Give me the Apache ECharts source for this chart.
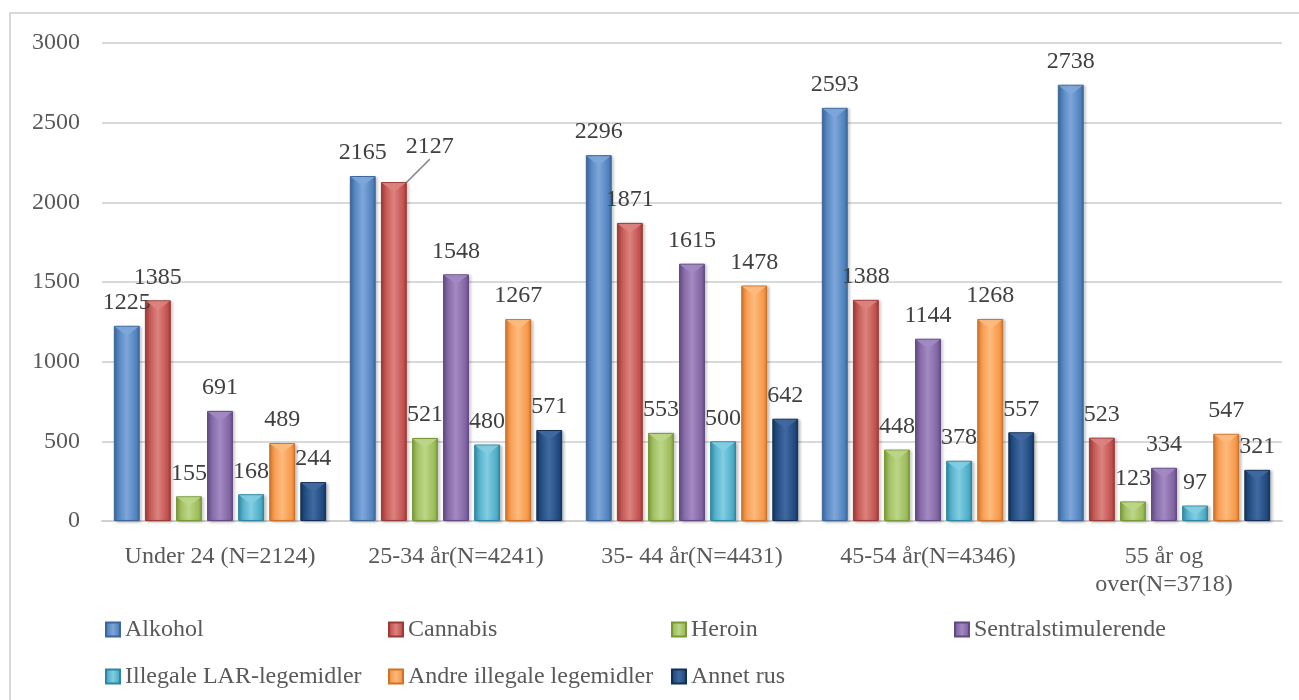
<!DOCTYPE html>
<html>
<head>
<meta charset="utf-8">
<script src="https://cdn.jsdelivr.net/npm/echarts@6/dist/echarts.min.js"></script>
<style>
  html, body { margin: 0; padding: 0; background: #fff; }
  #chart { width: 1299px; height: 700px; }
</style>
</head>
<body>
<div id="chart"></div>
<script>
// aldersgrupper
const categories = ['Under 24 (N=2124)', '25-34 år(N=4241)', '35- 44 år(N=4431)', '45-54 år(N=4346)', '55 år og\nover(N=3718)']

const alkohol = [1225, 2165, 2296, 2593, 2738]
const cannabis = [1385, 2127, 1871, 1388, 523]
const heroin = [155, 521, 553, 448, 123]
const sentralstimulerende = [691, 1548, 1615, 1144, 334]
const illegaleLar = [168, 480, 500, 378, 97]
const andreIllegale = [489, 1267, 1478, 1268, 547]
const annetRus = [244, 571, 642, 557, 321]

const yTicks = [0, 500, 1000, 1500, 2000, 2500, 3000]

const font = '"Liberation Serif", "DejaVu Serif", serif'

// farger: [mork, basis, lys]
const seriesList = [
  { name: 'Alkohol', data: alkohol, c: ['#3a6699', '#4f81bd', '#7ea6d9'] },
  { name: 'Cannabis', data: cannabis, c: ['#9a3936', '#c0504d', '#dc837f'] },
  { name: 'Heroin', data: heroin, c: ['#789836', '#9bbb59', '#bcd688'] },
  { name: 'Sentralstimulerende', data: sentralstimulerende, c: ['#614982', '#8064a2', '#a38ac3'] },
  { name: 'Illegale LAR-legemidler', data: illegaleLar, c: ['#2c87a0', '#4bacc6', '#82cde2'] },
  { name: 'Andre illegale legemidler', data: andreIllegale, c: ['#cf7227', '#f79646', '#fcbb7e'] },
  { name: 'Annet rus', data: annetRus, c: ['#122f55', '#1f497d', '#3f69a0'] }
]

function bevel (c) {
  return new echarts.graphic.LinearGradient(0, 0, 1, 0, [
    { offset: 0, color: c[0] },
    { offset: 0.12, color: c[1] },
    { offset: 0.5, color: c[2] },
    { offset: 0.88, color: c[1] },
    { offset: 1, color: c[0] }
  ])
}

// 2127-etiketten er flyttet i originalen, med en linje tilbake til stolpen
function barData (s) {
  return s.data.map((v, i) => {
    if (s.name === 'Cannabis' && i === 1) {
      return { value: v, labelLine: { show: true } }
    }
    return v
  })
}

const barSeries = seriesList.map(s => ({
  name: s.name,
  type: 'bar',
  data: barData(s),
  barGap: '20%',
  barCategoryGap: '10%',
  itemStyle: {
    color: bevel(s.c),
    borderColor: s.c[0],
    borderWidth: 1,
    shadowColor: 'rgba(0,0,0,0.25)',
    shadowBlur: 3,
    shadowOffsetX: 2,
    shadowOffsetY: 1
  },
  label: {
    show: true,
    position: 'top',
    distance: 11,
    fontFamily: font,
    fontSize: 24,
    color: '#404040'
  },
  labelLine: {
    show: false,
    lineStyle: { color: '#8c8c8c', width: 1.5 }
  },
  labelLayout: s.name === 'Cannabis'
    ? function (p) { return p.dataIndex === 1 ? { dx: 36, dy: -12 } : {} }
    : undefined
}))

// lys trekant på toppen av hver stolpe (skrå-effekten fra Excel)
const capSeries = seriesList.map(s => ({
  name: s.name + ' topp',
  type: 'pictorialBar',
  data: s.data,
  barGap: '20%',
  barCategoryGap: '10%',
  symbol: 'path://M0,0 L10,0 L5,3.2 Z',
  symbolSize: ['92%', 9],
  symbolPosition: 'end',
  symbolOffset: [0, 1],
  z: 3,
  silent: true,
  itemStyle: { color: s.c[2], opacity: 0.9 },
  label: { show: false }
}))

const myChart = echarts.init(document.getElementById('chart'))

myChart.setOption({
  animation: false,
  graphic: [{
    type: 'rect',
    shape: { x: 10, y: 13, width: 1320, height: 720 },
    style: { fill: 'none', stroke: '#d9d9d9', lineWidth: 2 },
    silent: true
  }],
  grid: {
    left: 102,
    right: 17,
    top: 43,
    bottom: 179
  },
  legend: {
    left: 105,
    top: 606,
    width: 1150,
    padding: 0,
    itemGap: 0,
    itemWidth: 14,
    itemHeight: 14,
    icon: 'rect',
    textStyle: {
      fontFamily: font,
      fontSize: 24,
      color: '#595959',
      width: 263,
      lineHeight: 47
    },
    data: seriesList.map(s => s.name)
  },
  xAxis: {
    type: 'category',
    data: categories,
    axisLine: { lineStyle: { color: '#d0d0d0', width: 2 } },
    axisTick: { show: false },
    axisLabel: {
      fontFamily: font,
      fontSize: 24,
      color: '#595959',
      margin: 22,
      lineHeight: 28,
      interval: 0
    }
  },
  yAxis: {
    type: 'value',
    min: yTicks[0],
    max: yTicks[yTicks.length - 1],
    interval: 500,
    axisLine: { show: false },
    axisTick: { show: false },
    splitLine: { lineStyle: { color: '#d9d9d9', width: 2 } },
    axisLabel: {
      fontFamily: font,
      fontSize: 24,
      color: '#595959',
      margin: 22,
      formatter: v => String(v)
    }
  },
  series: barSeries.concat(capSeries)
})
</script>
</body>
</html>
